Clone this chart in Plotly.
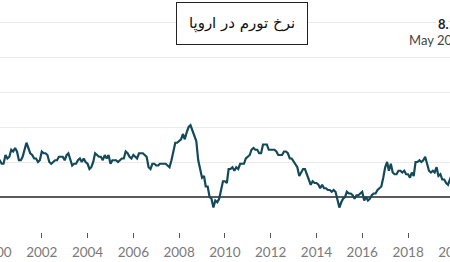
import pandas as pd
import plotly.graph_objects as go

# Euro-area annual inflation (%), monthly
y2000 = [2.0, 2.1, 2.1, 1.9, 1.9, 2.4, 2.2, 2.3, 2.7, 2.6, 2.8, 2.6]
y2001 = [2.1, 2.1, 2.3, 2.8, 3.1, 2.8, 2.5, 2.4, 2.2, 2.2, 2.0, 2.1]
y2002 = [2.6, 2.5, 2.5, 2.4, 2.0, 1.9, 2.0, 2.1, 2.1, 2.3, 2.3, 2.3]
y2003 = [2.1, 2.4, 2.5, 2.1, 1.8, 1.9, 1.9, 2.1, 2.2, 2.0, 2.2, 2.0]
y2004 = [1.9, 1.6, 1.7, 2.0, 2.5, 2.4, 2.3, 2.3, 2.1, 2.4, 2.2, 2.4]
y2005 = [1.9, 2.1, 2.1, 2.1, 2.0, 2.1, 2.2, 2.2, 2.6, 2.5, 2.3, 2.2]
y2006 = [2.4, 2.3, 2.2, 2.5, 2.5, 2.5, 2.4, 2.3, 1.7, 1.6, 1.9, 1.9]
y2007 = [1.8, 1.8, 1.9, 1.9, 1.9, 1.9, 1.8, 1.7, 2.1, 2.6, 3.1, 3.1]
y2008 = [3.2, 3.3, 3.6, 3.3, 3.7, 4.0, 4.1, 3.8, 3.6, 3.2, 2.1, 1.6]
y2009 = [1.1, 1.2, 0.6, 0.6, 0.0, -0.1, -0.6, -0.2, -0.3, -0.1, 0.5, 0.9]
y2010 = [0.9, 0.8, 1.6, 1.6, 1.7, 1.5, 1.7, 1.6, 1.9, 1.9, 1.9, 2.2]
y2011 = [2.3, 2.4, 2.7, 2.8, 2.7, 2.7, 2.5, 2.5, 3.0, 3.0, 3.0, 2.7]
y2012 = [2.7, 2.7, 2.7, 2.6, 2.4, 2.4, 2.4, 2.6, 2.6, 2.5, 2.2, 2.2]
y2013 = [2.0, 1.8, 1.7, 1.2, 1.4, 1.6, 1.6, 1.3, 1.1, 0.7, 0.9, 0.8]
y2014 = [0.8, 0.7, 0.5, 0.7, 0.5, 0.5, 0.4, 0.4, 0.3, 0.4, 0.3, -0.2]
y2015 = [-0.6, -0.3, -0.1, 0.0, 0.3, 0.2, 0.2, 0.1, -0.1, 0.1, 0.1, 0.2]
y2016 = [0.3, -0.2, 0.0, -0.2, -0.1, 0.1, 0.2, 0.2, 0.4, 0.5, 0.6, 1.1]
y2017 = [1.7, 2.0, 1.5, 1.9, 1.4, 1.3, 1.3, 1.5, 1.5, 1.4, 1.5, 1.3]
y2018 = [1.3, 1.1, 1.4, 1.2, 2.0, 2.0, 2.1, 2.0, 2.1, 2.3, 1.9, 1.5]
y2019 = [1.4, 1.5, 1.4, 1.7, 1.2, 1.3, 1.0, 1.0, 0.8, 0.7, 1.0, 1.3]
y2020 = [1.4, 1.2]

years = [y2000, y2001, y2002, y2003, y2004, y2005, y2006, y2007, y2008, y2009,
         y2010, y2011, y2012, y2013, y2014, y2015, y2016, y2017, y2018, y2019, y2020]
values = [v for yr in years for v in yr]
dates = pd.date_range("2000-01-01", periods=len(values), freq="MS")

tick_years = list(range(1998, 2024, 2))
tick_vals = [f"{y}-01-01" for y in tick_years]
tick_text = [str(y) for y in tick_years]

title_text = "نرخ تورم در اروپا"
last_value_text = "<b>8.1%</b>"
last_date_text = "May 2022"

fig = go.Figure()
fig.add_trace(go.Scatter(
    x=dates, y=values, mode="lines",
    line=dict(color="#134a5a", width=2.2),
    hoverinfo="skip", showlegend=False,
))

fig.update_layout(
    width=500, height=262,
    margin=dict(l=0, r=0, t=0, b=30),
    paper_bgcolor="white", plot_bgcolor="white",
    xaxis=dict(
        range=["1999-05-23", "2021-02-22"],
        tickvals=tick_vals, ticktext=tick_text,
        showgrid=False, zeroline=False, showline=False,
        ticks="outside", ticklen=5, tickwidth=1, tickcolor="#555",
        ticklabeloverflow="allow", ticklabelstandoff=3,
        tickfont=dict(family="Lato", size=13.5, color="#7a7a7a"),
    ),
    yaxis=dict(
        range=[-2, 11.257], dtick=2, tick0=0,
        showticklabels=False, showgrid=True, gridcolor="#ebebeb", gridwidth=1,
        zeroline=True, zerolinecolor="#5a5a5a", zerolinewidth=1.6,
        showline=False,
    ),
    annotations=[
        dict(text=title_text, xref="paper", yref="paper", x=0.522, y=0.9,
             xanchor="center", yanchor="middle", showarrow=False,
             font=dict(family="DejaVu Sans", size=15, color="#111"),
             bgcolor="white", bordercolor="#222", borderwidth=1, borderpad=1,
             width=128, height=39),
        dict(text=last_value_text, xref="paper", yref="paper", x=0.978, y=0.897,
             xanchor="right", yanchor="middle", showarrow=False,
             font=dict(family="Lato", size=13, color="#222"), bgcolor="white"),
        dict(text=last_date_text, xref="paper", yref="paper", x=0.978, y=0.828,
             xanchor="right", yanchor="middle", showarrow=False,
             font=dict(family="Lato", size=13, color="#444")),
    ],
)

post = """
var gd = document.getElementById('{plot_id}');
document.documentElement.style.overflow = 'hidden';
document.body.style.margin = '0';
document.body.style.overflow = 'hidden';
gd.style.position = 'relative';
gd.style.left = '-20px';
"""
fig.write_html("out.html", post_script=post)
